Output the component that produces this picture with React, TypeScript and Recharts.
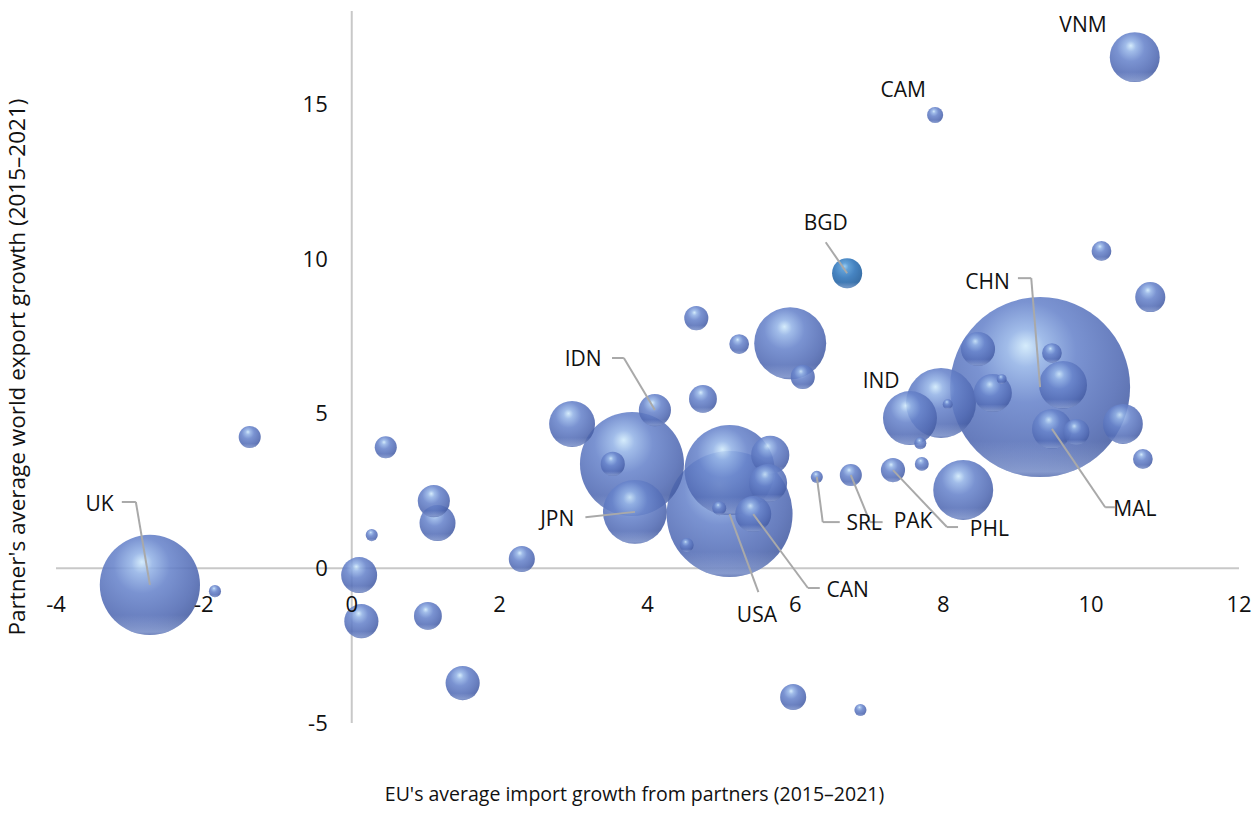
import { ScatterChart, Scatter, XAxis, YAxis, ZAxis, ReferenceLine, ReferenceDot } from 'recharts';

// Partner codes ('' = unlabelled partner)
const partners = [
  'UK', '', '', '', '', '', '', '', '', '',
  '', '', '', '', '', 'JPN', 'IDN', '', '', '',
  '', '', '', 'USA', '', '', 'CAN', '', '', 'SRL',
  'PAK', 'PHL', '', '', '', 'IND', '', '', 'CHN', '',
  '', '', '', '', 'MAL', '', '', '', '', '',
  'VNM', 'CAM', 'BGD', '', '',
];

// EU's average import growth from each partner, 2015–2021 (%)
const euImportGrowth = [
  -2.73, -1.85, -1.38, 0.46, 0.27, 0.10, 0.13, 1.11, 1.16, 1.03,
  1.50, 2.30, 2.98, 3.79, 3.53, 3.83, 4.10, 4.75, 4.66, 5.24,
  5.93, 6.10, 5.11, 5.11, 5.66, 5.63, 5.43, 4.97, 4.53, 6.29,
  6.75, 7.32, 7.71, 8.27, 7.69, 7.55, 7.97, 8.06, 9.31, 8.47,
  9.47, 9.62, 8.67, 8.79, 9.47, 9.80, 10.43, 10.70, 10.80, 10.14,
  10.59, 7.89, 6.70, 5.97, 6.88,
];

// Partner's average world export growth, 2015–2021 (%)
const partnerExportGrowth = [
  -0.54, -0.74, 4.24, 3.91, 1.07, -0.22, -1.71, 2.17, 1.46, -1.54,
  -3.71, 0.30, 4.66, 3.37, 3.37, 1.82, 5.11, 5.47, 8.08, 7.24,
  7.27, 6.18, 3.17, 1.75, 3.66, 2.75, 1.75, 1.94, 0.75, 2.95,
  3.01, 3.17, 3.37, 2.53, 4.04, 4.85, 5.34, 5.30, 5.85, 7.08,
  6.95, 5.92, 5.66, 6.11, 4.50, 4.40, 4.66, 3.53, 8.76, 10.25,
  16.51, 14.64, 9.53, -4.16, -4.58,
];

// Relative size of EU imports from the partner (bubble area)
const tradeSize = [
  31, 0.45, 1.5, 1.5, 0.45, 4, 3.6, 3.2, 4, 2.4,
  3.6, 2.1, 6.5, 33.4, 1.8, 12.6, 3.2, 2.4, 1.8, 1.2,
  16, 1.8, 25, 49, 4.5, 4.5, 4, 0.6, 0.6, 0.45,
  1.5, 1.8, 0.6, 11.1, 0.45, 9, 15.1, 0.3, 100, 3.6,
  1.2, 7.1, 4.5, 0.3, 4.9, 2.1, 4.9, 1.2, 2.8, 1.2,
  7.7, 0.8, 2.8, 2.1, 0.45,
];

const xTicks = [-4, -2, 0, 2, 4, 6, 8, 10, 12];
const yTicks = [-5, 0, 5, 10, 15];

// Callouts: label anchor, text alignment and elbow points of the leader line
const callouts = [
  { code: 'UK', at: [-3.22, 2.11], align: 'end', elbow: [[-3.11, 2.14], [-2.92, 2.14]] },
  { code: 'IDN', at: [3.38, 6.79], align: 'end', elbow: [[3.52, 6.79], [3.68, 6.79]] },
  { code: 'JPN', at: [3.01, 1.62], align: 'end', elbow: [[3.16, 1.65]] },
  { code: 'USA', at: [5.48, -1.48], align: 'middle', elbow: [[5.5, -0.77]] },
  { code: 'CAN', at: [6.42, -0.67], align: 'start', elbow: [[6.33, -0.64], [6.17, -0.64]] },
  { code: 'BGD', at: [6.41, 11.18], align: 'middle', elbow: [[6.41, 10.53]] },
  { code: 'CAM', at: [7.46, 15.48], align: 'middle', elbow: [] },
  { code: 'VNM', at: [9.89, 17.58], align: 'middle', elbow: [] },
  { code: 'CHN', at: [8.9, 9.28], align: 'end', elbow: [[9.01, 9.37], [9.19, 9.37]] },
  { code: 'IND', at: [7.16, 6.08], align: 'middle', elbow: [] },
  { code: 'MAL', at: [10.3, 1.94], align: 'start', elbow: [[10.32, 1.97], [10.19, 1.97]] },
  { code: 'SRL', at: [6.69, 1.49], align: 'start', elbow: [[6.6, 1.49], [6.37, 1.49]] },
  { code: 'PAK', at: [7.33, 1.56], align: 'start', elbow: [[7.18, 1.49], [7.01, 1.49]] },
  { code: 'PHL', at: [8.36, 1.3], align: 'start', elbow: [[8.2, 1.33], [8.05, 1.33]] },
];

const highlighted = 'BGD';

const W = 1260;
const H = 814;
const MARGIN = { top: 11, right: 21, bottom: 0, left: 0 };
const X_AXIS_H = 91;
const Y_AXIS_W = 56;
const X_DOMAIN: [number, number] = [-4, 12];
const Y_DOMAIN: [number, number] = [-5, 18];
const MAX_R = 90;

// pixel position of the zero lines, used to hang tick labels off the crossing axes
const plotH = H - MARGIN.top - MARGIN.bottom - X_AXIS_H;
const plotW = W - MARGIN.left - MARGIN.right - Y_AXIS_W;
const ZERO_Y = MARGIN.top + (Y_DOMAIN[1] / (Y_DOMAIN[1] - Y_DOMAIN[0])) * plotH;
const ZERO_X = MARGIN.left + Y_AXIS_W + (-X_DOMAIN[0] / (X_DOMAIN[1] - X_DOMAIN[0])) * plotW;

const FONT = '"Open Sans", sans-serif';
const TEXT = '#111';
const AXIS_GREY = '#c8c8c8';
const LEADER_GREY = '#a9a9a9';

const bubbles = partners
  .map((code, i) => ({ code, x: euImportGrowth[i], y: partnerExportGrowth[i], z: tradeSize[i] }))
  .sort((a, b) => b.z - a.z);

const findBubble = (code: string) => bubbles.find((b) => b.code === code)!;

const Sphere = (props: any) => {
  const { cx, cy, width, payload } = props;
  const r = width / 2;
  const dark = payload.code === highlighted;
  return (
    <g>
      <circle cx={cx} cy={cy} r={r} fill={dark ? 'url(#sphereDark)' : 'url(#sphere)'} fillOpacity={0.88} />
      <circle cx={cx} cy={cy} r={r} fill="url(#sphereRim)" />
    </g>
  );
};

const XTick = ({ x, payload }: any) => (
  <text x={x} y={ZERO_Y + 44} textAnchor="middle" fontFamily={FONT} fontSize={22} fill={TEXT}>
    {payload.value}
  </text>
);

const YTick = ({ y, payload }: any) => (
  <text x={ZERO_X - 24} y={y} dy={8} textAnchor="end" fontFamily={FONT} fontSize={22} fill={TEXT}>
    {payload.value}
  </text>
);

const calloutText = (text: string, align: string) => (props: any) => {
  const vb = props.viewBox || {};
  return (
    <text
      x={vb.x + (vb.width || 0) / 2}
      y={vb.y + (vb.height || 0) / 2}
      textAnchor={align}
      dominantBaseline="central"
      fontFamily={FONT}
      fontSize={21}
      fill={TEXT}
    >
      {text}
    </text>
  );
};

export default function App() {
  return (
    <div style={{ position: 'absolute', left: 0, top: 0, width: W, height: H, background: '#fff' }}>
      <svg width={0} height={0} style={{ position: 'absolute' }}>
        <defs>
          <radialGradient id="sphere" cx="0.42" cy="0.36" r="0.7" fx="0.42" fy="0.27">
            <stop offset="0" stopColor="#cfe9fb" />
            <stop offset="0.15" stopColor="#94b3e6" />
            <stop offset="0.4" stopColor="#6884cb" />
            <stop offset="0.76" stopColor="#526bb4" />
            <stop offset="1" stopColor="#40579c" />
          </radialGradient>
          <radialGradient id="sphereDark" cx="0.42" cy="0.36" r="0.7" fx="0.42" fy="0.27">
            <stop offset="0" stopColor="#8cc6f0" />
            <stop offset="0.18" stopColor="#4d94d2" />
            <stop offset="0.5" stopColor="#2c72b8" />
            <stop offset="1" stopColor="#1a5592" />
          </radialGradient>
          <linearGradient id="sphereRim" x1="0" y1="0" x2="0" y2="1">
            <stop offset="0.8" stopColor="#b8caf0" stopOpacity={0} />
            <stop offset="0.97" stopColor="#b8caf0" stopOpacity={0.45} />
            <stop offset="1" stopColor="#b8caf0" stopOpacity={0.2} />
          </linearGradient>
        </defs>
      </svg>
      <ScatterChart width={W} height={H} margin={MARGIN}>
        <ReferenceLine x={0} stroke={AXIS_GREY} strokeWidth={2} zIndex={-50} />
        <ReferenceLine y={0} stroke={AXIS_GREY} strokeWidth={2} zIndex={-50} />
        <XAxis
          type="number"
          dataKey="x"
          domain={X_DOMAIN}
          ticks={xTicks}
          height={X_AXIS_H}
          axisLine={false}
          tickLine={false}
          tick={<XTick />}
          interval={0}
          zIndex={1000}
          label={{
            content: (p: any) => {
              const vb = p.viewBox;
              return (
                <text x={vb.x + vb.width / 2 - 13} y={801} textAnchor="middle" fontFamily={FONT} fontSize={19.5} fill={TEXT}>
                  EU's average import growth from partners (2015–2021)
                </text>
              );
            },
          }}
        />
        <YAxis
          type="number"
          dataKey="y"
          domain={Y_DOMAIN}
          ticks={yTicks}
          width={Y_AXIS_W}
          axisLine={false}
          tickLine={false}
          tick={<YTick />}
          interval={0}
          zIndex={1000}
          label={{
            content: (p: any) => {
              const vb = p.viewBox;
              const cy = vb.y + vb.height / 2;
              return (
                <text
                  x={16}
                  y={cy}
                  transform={`rotate(-90, 16, ${cy})`}
                  textAnchor="middle"
                  dominantBaseline="central"
                  fontFamily={FONT}
                  fontSize={22.5}
                  fill={TEXT}
                >
                  Partner's average world export growth (2015–2021)
                </text>
              );
            },
          }}
        />
        <ZAxis type="number" dataKey="z" domain={[0, 100]} range={[0, Math.PI * MAX_R * MAX_R]} />
        <Scatter data={bubbles} shape={<Sphere />} isAnimationActive={false} />
        {callouts.flatMap((c) => {
          const b = findBubble(c.code);
          const pts = [...c.elbow, [b.x, b.y]];
          return pts.slice(1).map((p, i) => (
            <ReferenceLine
              key={`${c.code}-${i}`}
              segment={[
                { x: pts[i][0], y: pts[i][1] },
                { x: p[0], y: p[1] },
              ]}
              stroke={LEADER_GREY}
              strokeWidth={2}
              zIndex={1000}
            />
          ));
        })}
        {callouts.map((c) => (
          <ReferenceDot
            key={c.code}
            x={c.at[0]}
            y={c.at[1]}
            r={0}
            fill="none"
            stroke="none"
            zIndex={1000}
            label={{ content: calloutText(c.code, c.align) }}
          />
        ))}
      </ScatterChart>
    </div>
  );
}
